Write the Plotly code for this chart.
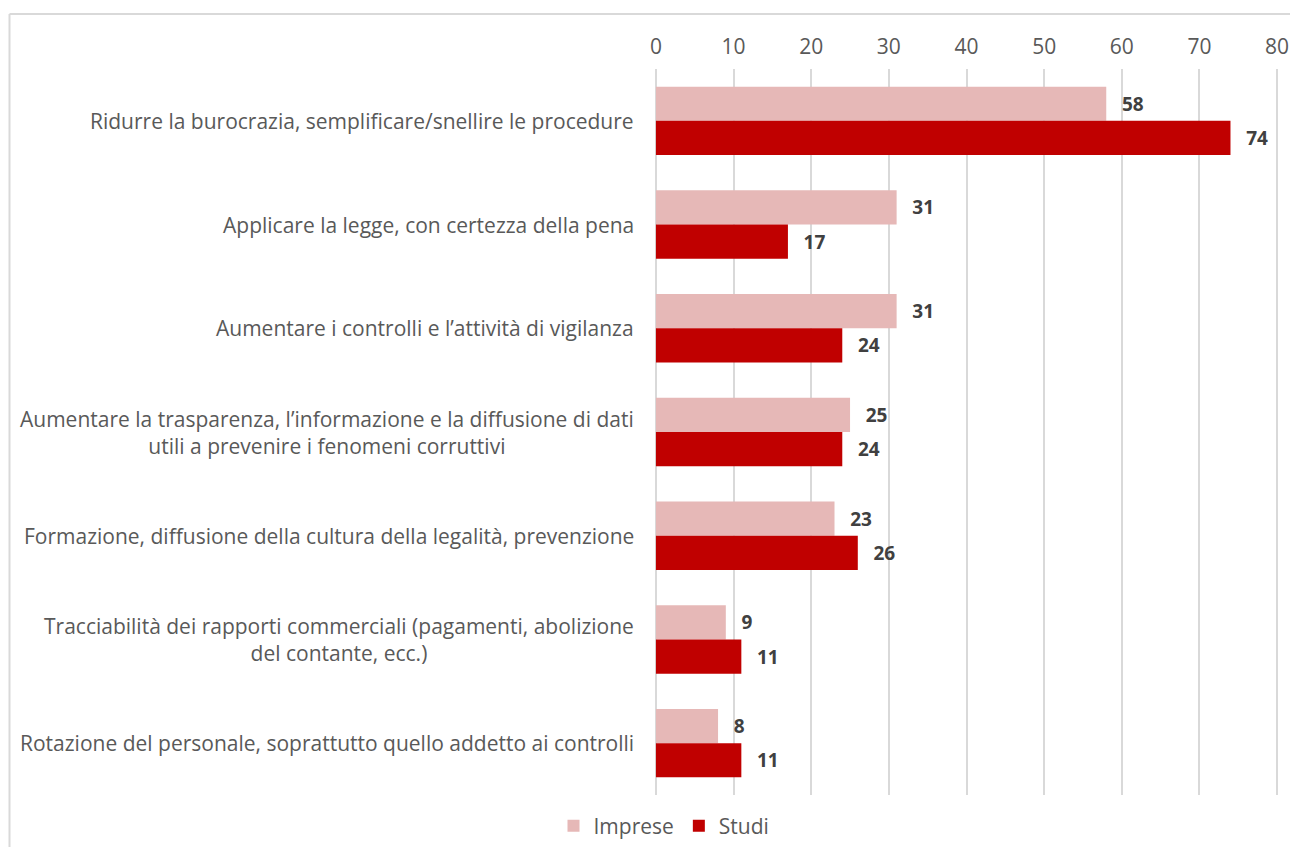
import plotly.graph_objects as go

categories = [
    "Ridurre la burocrazia, semplificare/snellire le procedure",
    "Applicare la legge, con certezza della pena",
    "Aumentare i controlli e l\u2019attività di vigilanza",
    "Aumentare la trasparenza, l\u2019informazione e la diffusione di dati<br>utili a prevenire i fenomeni corruttivi",
    "Formazione, diffusione della cultura della legalità, prevenzione",
    "Tracciabilità dei rapporti commerciali (pagamenti, abolizione<br>del contante, ecc.)",
    "Rotazione del personale, soprattutto quello addetto ai controlli",
]
imprese = [58, 31, 31, 25, 23, 9, 8]
studi = [74, 17, 24, 24, 26, 11, 11]

FONT = "Open Sans"
GREY = "#595959"
SIZE = 21

fig = go.Figure()
fig.add_trace(go.Bar(
    y=categories, x=imprese, name="Imprese", orientation="h",
    marker=dict(color="#E6B8B7", line=dict(width=0)),
    text=imprese, texttemplate="\u2002\u2009%{x}", textposition="outside",
    textfont=dict(family=FONT, size=19, color="#404040", weight="bold"),
    constraintext="none", cliponaxis=False,
))
fig.add_trace(go.Bar(
    y=categories, x=studi, name="Studi", orientation="h",
    marker=dict(color="#C00000", line=dict(width=0)),
    text=studi, texttemplate="\u2002\u2009%{x}", textposition="outside",
    textfont=dict(family=FONT, size=19, color="#404040", weight="bold"),
    constraintext="none", cliponaxis=False,
))

# category labels, centred lines like the original
for c in categories:
    fig.add_annotation(x=-0.0288, y=c, xref="paper", yref="y", text=c,
                       showarrow=False, xanchor="right", align="center",
                       font=dict(family=FONT, size=SIZE, color=GREY))

# chart-area border (only top and left are visible)
fig.add_shape(type="line", xref="paper", yref="paper", x0=-1.0312, x1=1.1,
              y0=1.0758, y1=1.0758, line=dict(color="#D9D9D9", width=2))
fig.add_shape(type="line", xref="paper", yref="paper", x0=-1.0312, x1=-1.0312,
              y0=-0.2, y1=1.0758, line=dict(color="#D9D9D9", width=2))

fig.update_layout(
    width=1282, height=839,
    margin=dict(l=646, r=11, t=61, b=52, autoexpand=False),
    barmode="group", bargap=0.34, bargroupgap=0,
    plot_bgcolor="white", paper_bgcolor="white",
    font=dict(family=FONT, size=SIZE, color=GREY),
    xaxis=dict(side="top", range=[-0.25, 80.25], tickvals=list(range(0, 90, 10)),
               showgrid=True, gridcolor="#D9D9D9", gridwidth=2, zeroline=False,
               showline=False, ticks="", ticklabelstandoff=10,
               ticklabeloverflow="allow", automargin=False,
               tickfont=dict(family=FONT, size=SIZE, color=GREY)),
    yaxis=dict(autorange="reversed", showticklabels=False, showgrid=False,
               showline=False, ticks="", zeroline=False, automargin=False),
    legend=dict(orientation="h", x=0.016, xanchor="center", y=-0.043,
                yanchor="middle", font=dict(family=FONT, size=SIZE, color=GREY),
                itemwidth=30, traceorder="normal"),
)

fig.write_html("out.html")
